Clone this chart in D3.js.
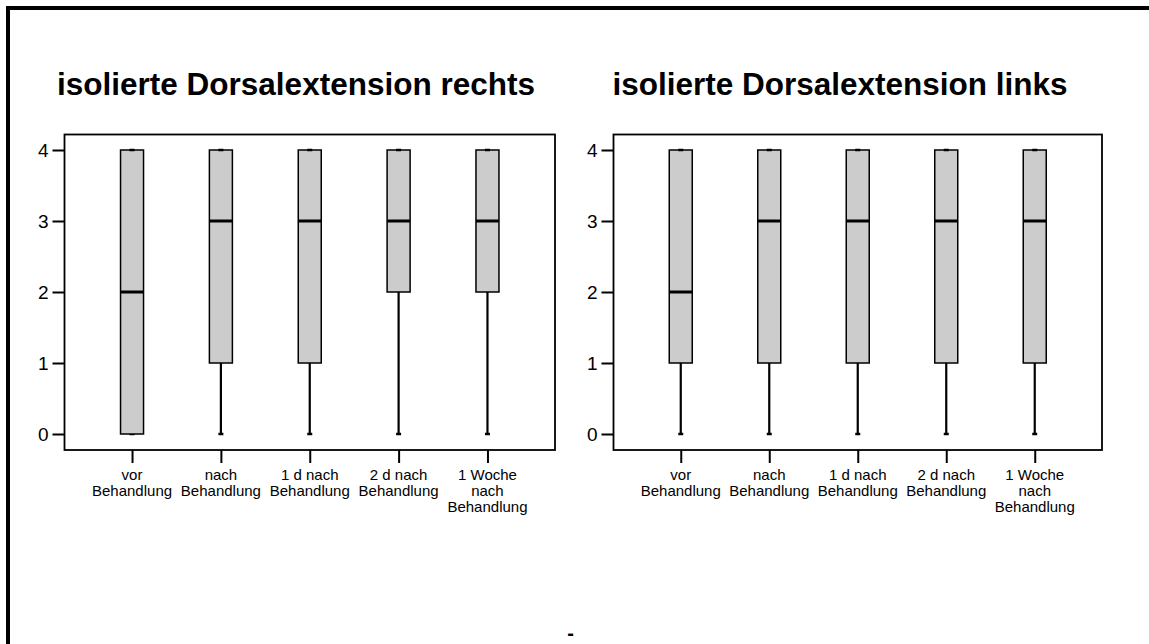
<!DOCTYPE html>
<html><head><meta charset="utf-8">
<script src="https://cdn.jsdelivr.net/npm/d3@7"></script>
<style>
html,body{margin:0;padding:0;background:#fff;}
svg{display:block;font-family:"Liberation Sans",Arial,sans-serif;}
</style></head>
<body>
<svg id="chart" width="1149" height="644"></svg>
<script>
const categories = ["vor\nBehandlung","nach\nBehandlung","1 d nach\nBehandlung","2 d nach\nBehandlung","1 Woche\nnach\nBehandlung"];
const yTicks = [0,1,2,3,4];
const titles = ["isolierte Dorsalextension rechts","isolierte Dorsalextension links"];
// [min, q1, median, q3, max]
const rechtsStats = [[0,0,2,4,4],[0,1,3,4,4],[0,1,3,4,4],[0,2,3,4,4],[0,2,3,4,4]];
const linksStats  = [[0,1,2,4,4],[0,1,3,4,4],[0,1,3,4,4],[0,1,3,4,4],[0,1,3,4,4]];

const svg = d3.select("#chart");
// outer frame (only top and left visible)
svg.append("path").attr("d","M8,660 L8,8 L1170,8").attr("fill","none").attr("stroke","#000").attr("stroke-width",4);

const panels = [
  {stats: rechtsStats, title: titles[0], x0: 64.5, x1: 555, titleX: 296},
  {stats: linksStats, title: titles[1], x0: 613.5, x1: 1102, titleX: 840}
];
const yTop = 134.5, yBot = 450;

panels.forEach(p => {
  const g = svg.append("g");
  const y = d3.scaleLinear().domain([0,4]).range([434,150]);
  const x = d3.scalePoint().domain(categories).range([p.x0,p.x1]).padding(0.76);

  g.append("text").attr("x",p.titleX).attr("y",95).attr("text-anchor","middle")
    .attr("font-weight","bold").attr("font-size",31.5).text(p.title);

  // plot frame
  g.append("rect").attr("x",p.x0).attr("y",yTop).attr("width",p.x1-p.x0).attr("height",yBot-yTop)
    .attr("fill","none").attr("stroke","#000").attr("stroke-width",1.8);

  // y axis
  const ya = d3.axisLeft(y).tickValues(yTicks).tickSize(12).tickPadding(4).tickFormat(d3.format("d"));
  const yg = g.append("g").attr("transform",`translate(${p.x0},0)`).call(ya);
  yg.select(".domain").remove();
  yg.selectAll(".tick line").attr("stroke","#000").attr("stroke-width",2);
  yg.selectAll(".tick text").attr("font-size",19).attr("font-family","Liberation Sans, Arial, sans-serif").attr("fill","#000");

  // x axis
  const xa = d3.axisBottom(x).tickSize(13).tickFormat("");
  const xg = g.append("g").attr("transform",`translate(0,${yBot})`).call(xa);
  xg.select(".domain").remove();
  xg.selectAll(".tick line").attr("stroke","#000").attr("stroke-width",2);
  categories.forEach(c => {
    const lines = c.split("\n");
    const t = g.append("text").attr("text-anchor","middle").attr("font-size",15).attr("fill","#000");
    lines.forEach((l,i) => t.append("tspan").attr("x",x(c)).attr("y",480+i*16).text(l));
  });

  // boxes
  const bw = 23;
  p.stats.forEach((s,i) => {
    const cx = x(categories[i]);
    const [mn,q1,md,q3,mx] = s;
    g.append("line").attr("x1",cx).attr("x2",cx).attr("y1",y(q1)).attr("y2",y(mn)).attr("stroke","#000").attr("stroke-width",2.2);
    g.append("line").attr("x1",cx).attr("x2",cx).attr("y1",y(q3)).attr("y2",y(mx)).attr("stroke","#000").attr("stroke-width",2.2);
    g.append("line").attr("x1",cx-2.5).attr("x2",cx+2.5).attr("y1",y(mn)).attr("y2",y(mn)).attr("stroke","#000").attr("stroke-width",2.5);
    g.append("rect").attr("x",cx-bw/2).attr("y",y(q3)).attr("width",bw).attr("height",y(q1)-y(q3))
      .attr("fill","#cccccc").attr("stroke","#000").attr("stroke-width",1.5);
    g.append("line").attr("x1",cx-2.5).attr("x2",cx+2.5).attr("y1",y(mx)).attr("y2",y(mx)).attr("stroke","#000").attr("stroke-width",2.5);
    g.append("line").attr("x1",cx-bw/2).attr("x2",cx+bw/2).attr("y1",y(md)).attr("y2",y(md)).attr("stroke","#000").attr("stroke-width",3);
  });
});

svg.append("text").attr("x",570.5).attr("y",640).attr("text-anchor","middle").attr("font-size",20).attr("font-weight","bold").text("-");
</script>
</body></html>
